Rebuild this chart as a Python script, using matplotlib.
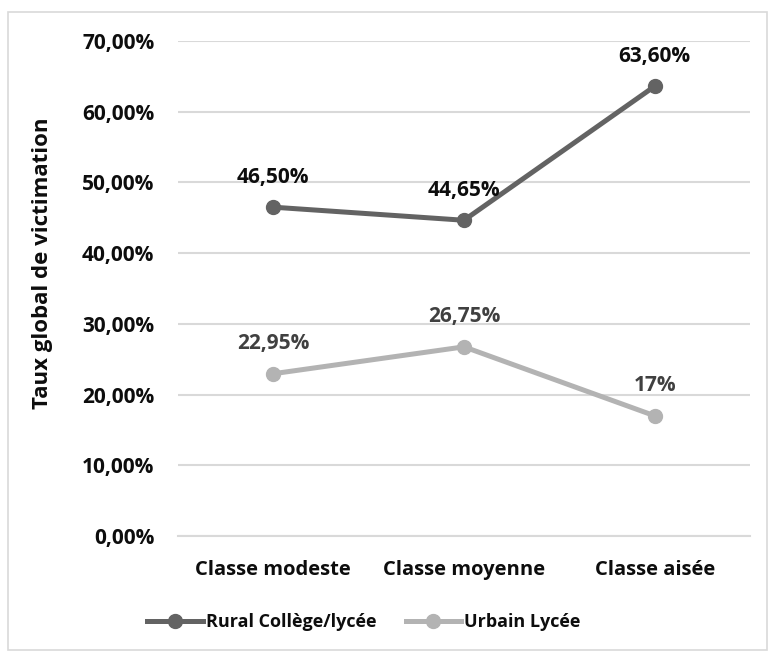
import matplotlib
matplotlib.use('Agg')
import matplotlib.pyplot as plt
from matplotlib.patches import Rectangle
from matplotlib.ticker import FuncFormatter

plt.rcParams['font.family'] = ['Open Sans', 'DejaVu Sans']

categories = ['Classe modeste', 'Classe moyenne', 'Classe aisée']
rural = [46.50, 44.65, 63.60]
urbain = [22.95, 26.75, 17.0]
rural_labels = ['46,50%', '44,65%', '63,60%']
urbain_labels = ['22,95%', '26,75%', '17%']
series_names = ['Rural Collège/lycée', 'Urbain Lycée']
y_ticks = [0, 10, 20, 30, 40, 50, 60, 70]

c_rural = '#636363'
c_urbain = '#b3b3b3'
fs = 15

fig = plt.figure(figsize=(7.69, 6.52), dpi=100)
ax = fig.add_axes([178 / 769, 1 - 536 / 652, (750 - 178) / 769, (536 - 41) / 652])

x = [i + 0.5 for i in range(len(categories))]

ax.plot(x, rural, color=c_rural, linewidth=3.6, marker='o', markersize=10,
        label=series_names[0], zorder=3)
ax.plot(x, urbain, color=c_urbain, linewidth=3.6, marker='o', markersize=10,
        label=series_names[1], zorder=3)

for xi, v, t in zip(x, rural, rural_labels):
    ax.annotate(t, (xi, v), xytext=(0, 21.5), textcoords='offset points',
                ha='center', va='center', fontsize=fs, fontweight='bold', color='#0d0d0d')
for xi, v, t in zip(x, urbain, urbain_labels):
    ax.annotate(t, (xi, v), xytext=(0, 21.5), textcoords='offset points',
                ha='center', va='center', fontsize=fs, fontweight='bold', color='#404040')

ax.set_xlim(0, 3)
ax.set_ylim(0, 70)
ax.set_yticks(y_ticks)
ax.yaxis.set_major_formatter(FuncFormatter(lambda v, p: '{:.2f}%'.format(v).replace('.', ',')))
ax.set_xticks(x)
ax.set_xticklabels(categories)
ax.tick_params(axis='both', length=0, labelsize=fs, colors='#0d0d0d')
ax.tick_params(axis='x', labelsize=14.5, pad=17)
ax.tick_params(axis='y', pad=17)
for lab in ax.get_xticklabels() + ax.get_yticklabels():
    lab.set_fontweight('bold')

ax.grid(True, axis='y', color='#d9d9d9', linewidth=1.5)
ax.set_axisbelow(True)
for s in ['top', 'right', 'left']:
    ax.spines[s].set_visible(False)
ax.spines['bottom'].set_color('#d9d9d9')
ax.spines['bottom'].set_linewidth(1.5)

fig.text(43 / 769, 1 - 263 / 652, 'Taux global de victimation', rotation=90,
         ha='center', va='center', fontsize=16, fontweight='bold', color='#0d0d0d')

leg = fig.legend(loc='center', bbox_to_anchor=(364 / 769, 1 - 622 / 652), ncol=2,
                 frameon=False, prop={'size': 13, 'weight': 'bold'},
                 handlelength=3.1, handletextpad=0.15, columnspacing=1.6)
for t in leg.get_texts():
    t.set_color('#0d0d0d')

fig.patches.append(Rectangle((8 / 769, 1 - 650 / 652), 759 / 769, 638 / 652,
                             transform=fig.transFigure, fill=False,
                             edgecolor='#d9d9d9', linewidth=1.2))

fig.savefig('out.png', dpi=100)
